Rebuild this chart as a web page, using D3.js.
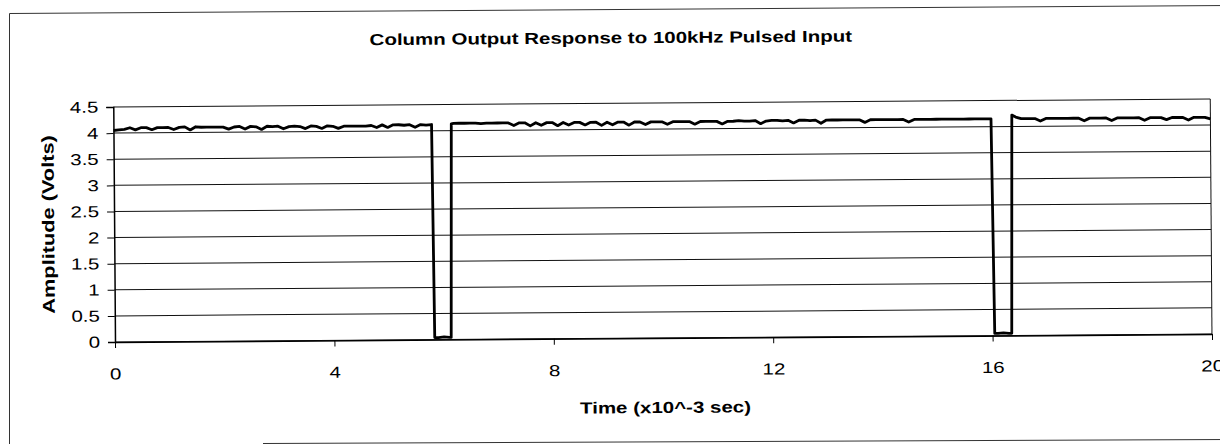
<!DOCTYPE html>
<html>
<head>
<meta charset="utf-8">
<script src="https://cdn.jsdelivr.net/npm/d3@7"></script>
<style>
  body { margin: 0; background: #fff; }
  text { font-family: "Liberation Sans", Arial, sans-serif; }
</style>
</head>
<body>
<div id="chart"></div>
<script>
// time in x10^-3 sec, amplitude in volts
var timeMs = [
  0.0, 0.1, 0.2, 0.3, 0.4, 0.5, 0.6, 0.7, 0.8, 0.9,
  1.0, 1.1, 1.2, 1.3, 1.4, 1.5, 1.6, 1.7, 1.8, 1.9,
  2.0, 2.1, 2.2, 2.3, 2.4, 2.5, 2.6, 2.7, 2.8, 2.9,
  3.0, 3.1, 3.2, 3.3, 3.4, 3.5, 3.6, 3.7, 3.8, 3.9,
  4.0, 4.1, 4.2, 4.3, 4.4, 4.5, 4.6, 4.7, 4.8, 4.9,
  5.0, 5.1, 5.2, 5.3, 5.4, 5.5, 5.6, 5.7, 5.8,
  5.83, 5.9, 6.0, 6.1, 6.13, 6.16, 6.2,
  6.3, 6.4, 6.5, 6.6, 6.7, 6.8, 6.9, 7.0,
  7.1, 7.2, 7.3, 7.4, 7.5, 7.6, 7.7, 7.8, 7.9, 8.0,
  8.1, 8.2, 8.3, 8.4, 8.5, 8.6, 8.7, 8.8, 8.9, 9.0,
  9.1, 9.2, 9.3, 9.4, 9.5, 9.6, 9.7, 9.8, 9.9, 10.0,
  10.1, 10.2, 10.3, 10.4, 10.5, 10.6, 10.7, 10.8, 10.9, 11.0,
  11.1, 11.2, 11.3, 11.4, 11.5, 11.6, 11.7, 11.8, 11.9, 12.0,
  12.1, 12.2, 12.3, 12.4, 12.5, 12.6, 12.7, 12.8, 12.9, 13.0,
  13.1, 13.2, 13.3, 13.4, 13.5, 13.6, 13.7, 13.8, 13.9, 14.0,
  14.1, 14.2, 14.3, 14.4, 14.5, 14.6, 14.7, 14.8, 14.9, 15.0,
  15.1, 15.2, 15.3, 15.4, 15.5, 15.6, 15.7, 15.8, 15.9, 16.0,
  16.04, 16.1, 16.2, 16.3, 16.35, 16.38, 16.45, 16.55,
  16.6, 16.7, 16.8, 16.9, 17.0, 17.1, 17.2, 17.3, 17.4, 17.5,
  17.6, 17.7, 17.8, 17.9, 18.0, 18.1, 18.2, 18.3, 18.4, 18.5,
  18.6, 18.7, 18.8, 18.9, 19.0, 19.1, 19.2, 19.3, 19.4, 19.5,
  19.6, 19.7, 19.8, 19.9, 20.0
];
var volts = [
  4.05, 4.06, 4.07, 4.10, 4.06, 4.10, 4.10, 4.06, 4.10, 4.10,
  4.10, 4.06, 4.10, 4.11, 4.05, 4.11, 4.10, 4.10, 4.10, 4.10,
  4.10, 4.06, 4.10, 4.11, 4.06, 4.11, 4.10, 4.05, 4.11, 4.10,
  4.11, 4.06, 4.10, 4.11, 4.10, 4.06, 4.11, 4.10, 4.06, 4.11,
  4.10, 4.06, 4.10, 4.10, 4.10, 4.10, 4.10, 4.11, 4.07, 4.12,
  4.07, 4.12, 4.12, 4.11, 4.12, 4.07, 4.12, 4.11, 4.12,
  0.04, 0.04, 0.05, 0.04, 0.04, 4.13, 4.14,
  4.14, 4.14, 4.14, 4.14, 4.13, 4.14, 4.14, 4.14,
  4.14, 4.14, 4.09, 4.14, 4.14, 4.08, 4.14, 4.09, 4.14, 4.14,
  4.08, 4.14, 4.09, 4.14, 4.14, 4.09, 4.14, 4.14, 4.08, 4.14,
  4.09, 4.14, 4.14, 4.08, 4.14, 4.14, 4.09, 4.14, 4.14, 4.14,
  4.09, 4.14, 4.14, 4.14, 4.14, 4.09, 4.14, 4.14, 4.14, 4.14,
  4.09, 4.14, 4.14, 4.15, 4.14, 4.14, 4.15, 4.09, 4.14, 4.15,
  4.15, 4.14, 4.15, 4.10, 4.15, 4.15, 4.14, 4.15, 4.09, 4.15,
  4.15, 4.15, 4.15, 4.15, 4.15, 4.15, 4.10, 4.15, 4.15, 4.15,
  4.15, 4.15, 4.15, 4.15, 4.10, 4.15, 4.15, 4.15, 4.15, 4.15,
  4.15, 4.15, 4.15, 4.15, 4.15, 4.15, 4.15, 4.15, 4.15, 4.15,
  0.04, 0.04, 0.05, 0.04, 0.04, 4.22, 4.18, 4.15,
  4.15, 4.15, 4.15, 4.10, 4.15, 4.15, 4.15, 4.15, 4.15, 4.15,
  4.15, 4.10, 4.15, 4.15, 4.15, 4.15, 4.10, 4.15, 4.15, 4.15,
  4.15, 4.15, 4.10, 4.15, 4.15, 4.15, 4.11, 4.15, 4.15, 4.15,
  4.10, 4.15, 4.15, 4.15, 4.12
];
var xTicks = [0, 4, 8, 12, 16, 20];
var yTicks = [0, 0.5, 1, 1.5, 2, 2.5, 3, 3.5, 4, 4.5];

var title = 'Column Output Response to 100kHz Pulsed Input';
var xTitle = 'Time (x10^-3 sec)';
var yTitle = 'Amplitude (Volts)';

var width = 1220, height = 444;
var plot = {left: 115, top: 107, right: 1212, bottom: 342};
var stretch = 1.28; // the scanned lettering is wider than Arial

var svg = d3.select('#chart')
  .append('svg')
  .attr('width', width)
  .attr('height', height);

// outer chart frame as it sits on the scanned page
svg.append('path')
  .attr('d', 'M1230,5.5 L9.5,13.5 L9.5,450 M263,443.5 L1230,439.5')
  .attr('fill', 'none')
  .attr('stroke', '#333')
  .attr('stroke-width', 1);

// the scanned page is a little tilted
var root = svg.append('g')
  .attr('transform', 'rotate(-0.42,' + plot.left + ',' + plot.bottom + ')');

var x = d3.scaleLinear().domain([0, 20]).range([plot.left, plot.right]);
var y = d3.scaleLinear().domain([0, 4.5]).range([plot.bottom, plot.top]);

// gridlines
root.append('g')
  .selectAll('line')
  .data(yTicks)
  .enter()
  .append('line')
  .attr('x1', plot.left).attr('x2', plot.right)
  .attr('y1', function(d) { return y(d); })
  .attr('y2', function(d) { return y(d); })
  .attr('stroke', '#111')
  .attr('stroke-width', 1);

// right border of plot area
root.append('line')
  .attr('x1', plot.right).attr('x2', plot.right)
  .attr('y1', plot.top).attr('y2', plot.bottom)
  .attr('stroke', '#111');

var axisY = d3.axisLeft(y).tickValues(yTicks).tickSize(7).tickPadding(8)
  .tickFormat(function(d) { return d; });
var axisYG = root.append('g')
  .attr('transform', 'translate(' + plot.left + ',0)')
  .call(axisY);
axisYG.select('.domain').attr('stroke', '#000').attr('stroke-width', 1.5);
axisYG.selectAll('.tick line').attr('stroke', '#000');
axisYG.selectAll('.tick text')
  .attr('fill', '#000')
  .style('font-size', '16px')
  .style('font-family', '"Liberation Sans", Arial, sans-serif');

var axisX = d3.axisBottom(x).tickValues(xTicks).tickSize(6).tickPadding(20)
  .tickSizeOuter(0);
var axisXG = root.append('g')
  .attr('transform', 'translate(0,' + plot.bottom + ')')
  .call(axisX);
axisXG.select('.domain').attr('stroke', '#000').attr('stroke-width', 1.5);
axisXG.selectAll('.tick line').attr('stroke', '#000');
axisXG.selectAll('.tick text')
  .attr('fill', '#000')
  .style('font-size', '16px')
  .style('font-family', '"Liberation Sans", Arial, sans-serif');

var line = d3.line()
  .x(function(d, i) { return x(timeMs[i]); })
  .y(function(d) { return y(d); });

root.append('path')
  .datum(volts)
  .attr('d', line)
  .attr('fill', 'none')
  .attr('stroke', '#000')
  .attr('stroke-width', 2.8)
  .attr('stroke-linejoin', 'round');

root.append('text')
  .attr('x', 613).attr('y', 47)
  .attr('text-anchor', 'middle')
  .style('font-size', '16px')
  .style('font-weight', 'bold')
  .text(title);

root.append('text')
  .attr('x', 665).attr('y', 417)
  .attr('text-anchor', 'middle')
  .style('font-size', '16px')
  .style('font-weight', 'bold')
  .text(xTitle);

root.append('text')
  .attr('transform', 'translate(55,224) rotate(-90)')
  .attr('text-anchor', 'middle')
  .style('font-size', '17px')
  .style('font-weight', 'bold')
  .text(yTitle);

// widen every label along its own direction
svg.selectAll('text').each(function() {
  var w = this.getComputedTextLength();
  d3.select(this)
    .attr('textLength', w * stretch)
    .attr('lengthAdjust', 'spacingAndGlyphs');
});
</script>
</body>
</html>
